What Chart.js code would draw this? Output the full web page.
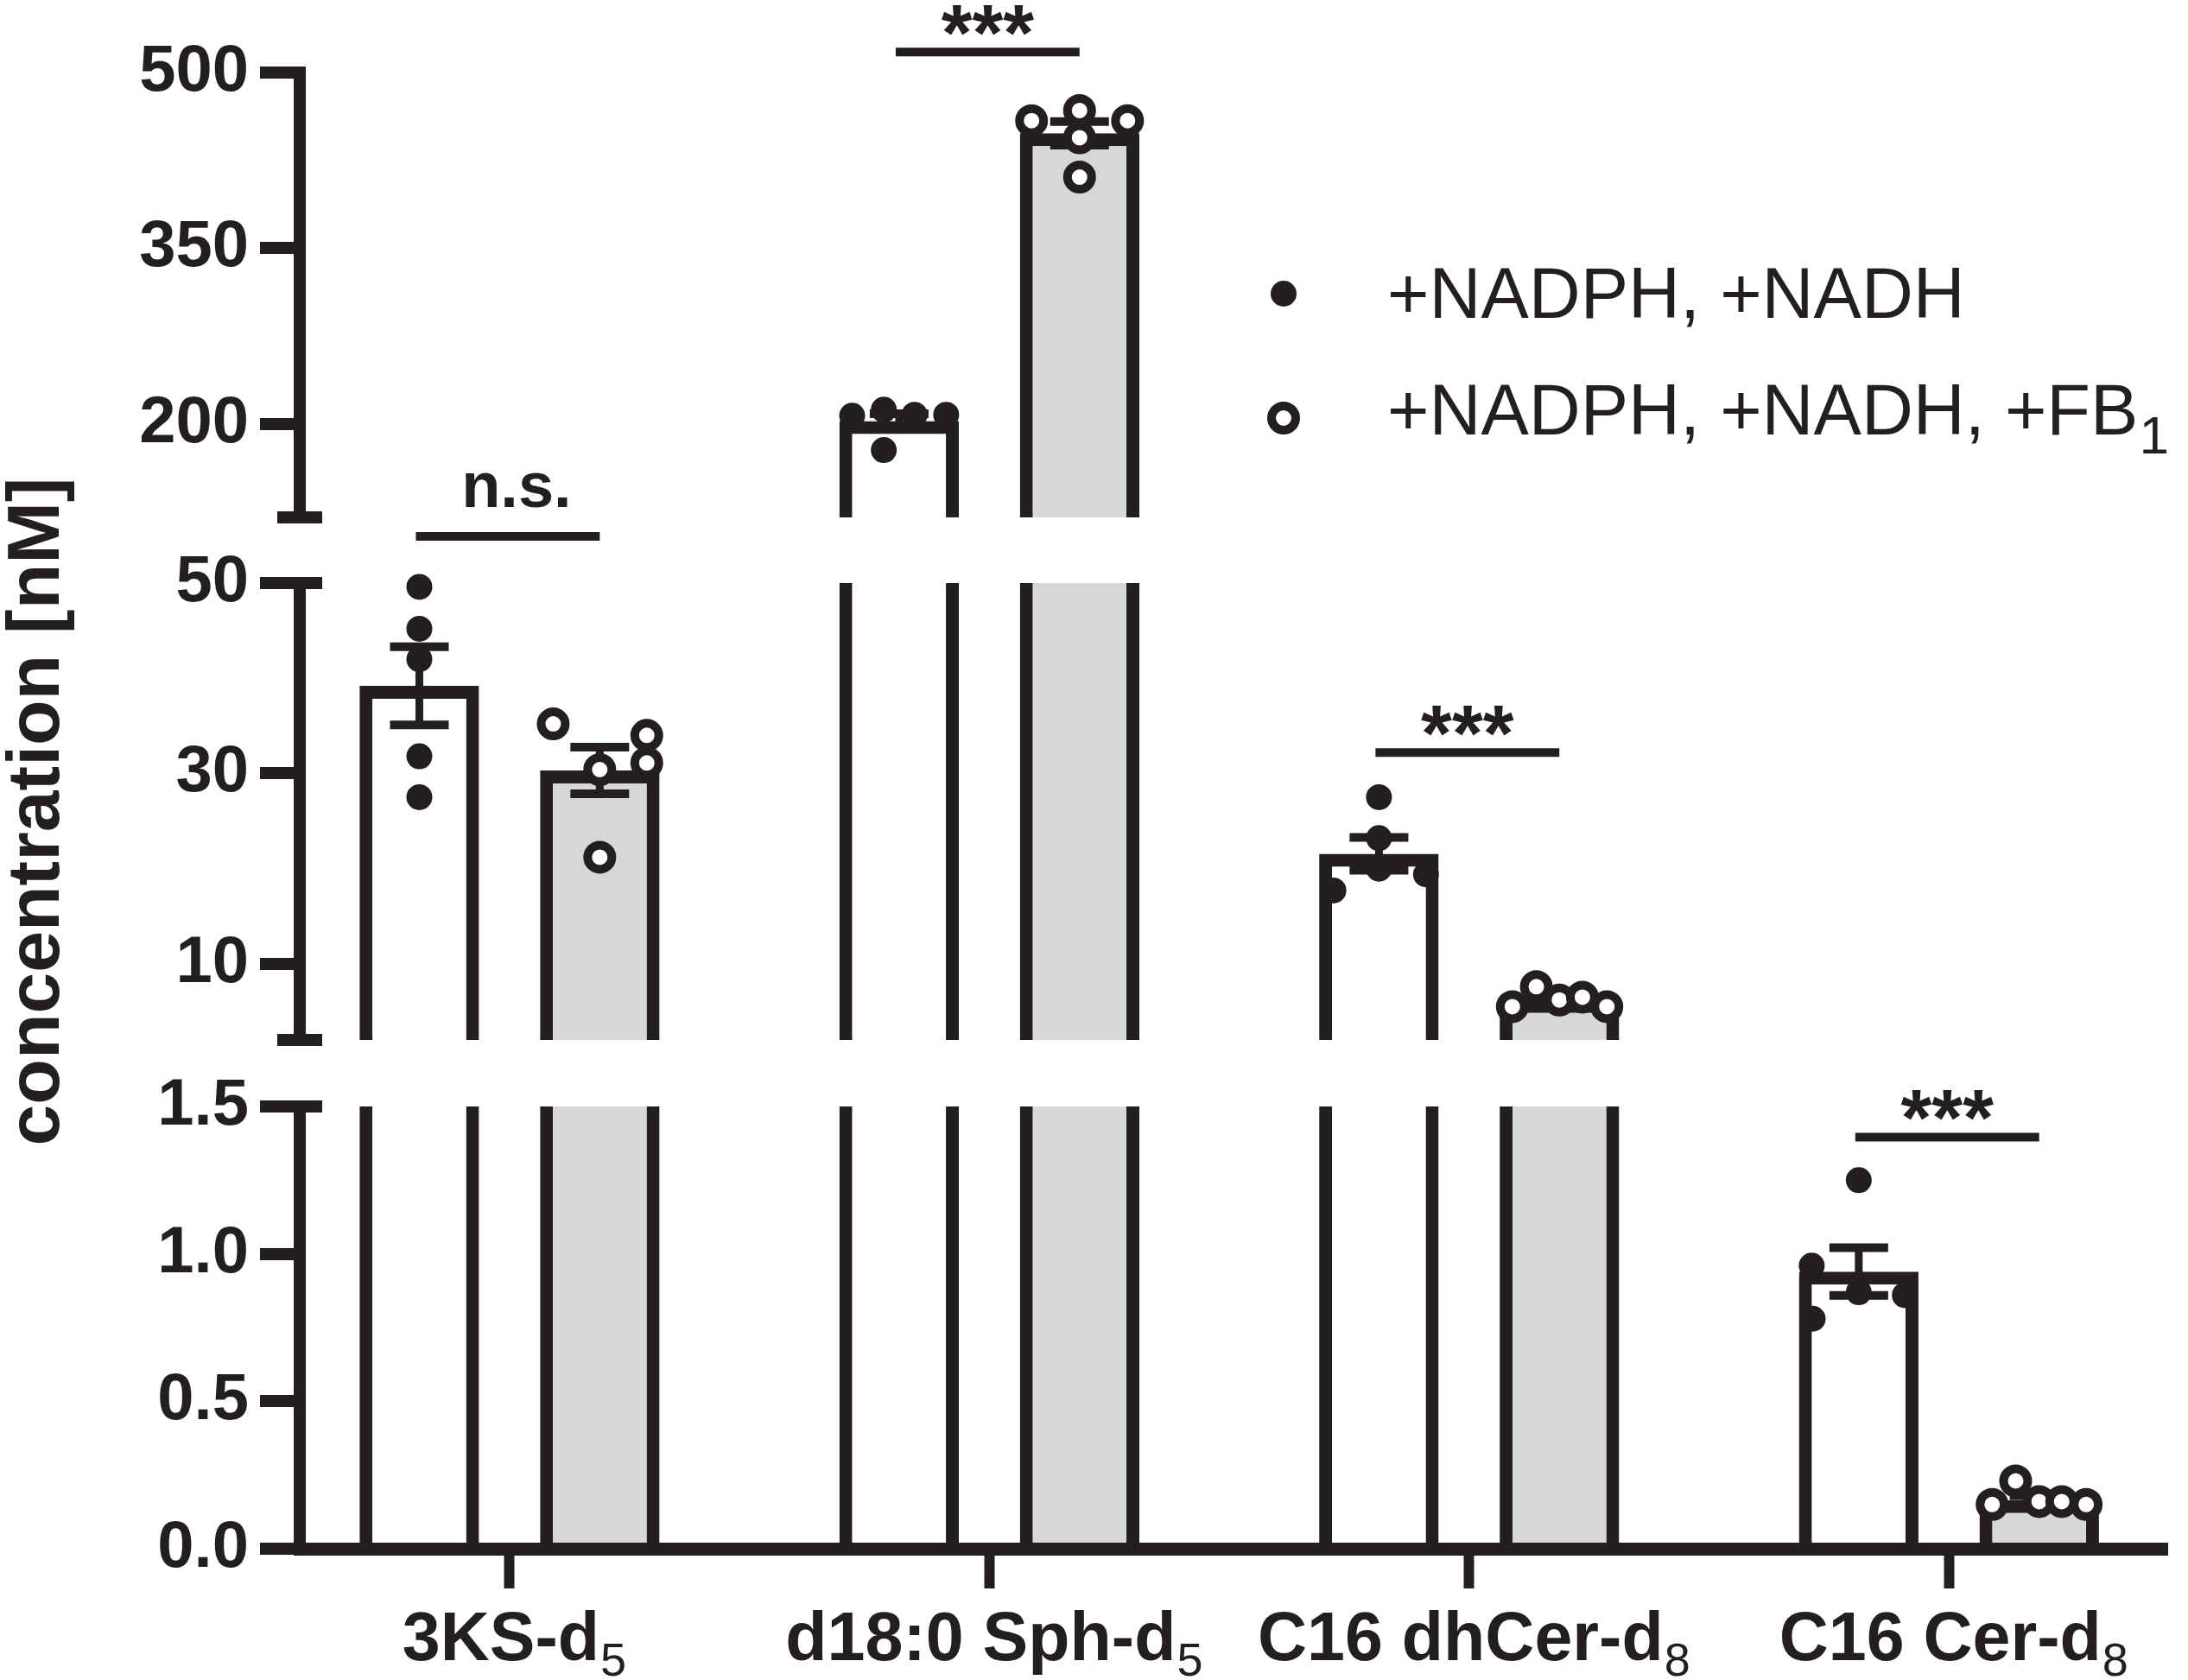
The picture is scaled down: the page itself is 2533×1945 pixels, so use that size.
<!DOCTYPE html>
<html>
<head>
<meta charset="utf-8">
<title>Sphingolipid intermediates with and without FB1</title>
<script src="https://cdn.jsdelivr.net/npm/chart.js@4.4.1/dist/chart.umd.min.js"></script>
<style>
  html, body { margin: 0; padding: 0; background: #fff; }
  canvas { display: block; }
</style>
</head>
<body>
<canvas id="chart" width="2533" height="1945"></canvas>
<script>
// x categories; the isotope count is drawn as a subscript
const categories = ['3KS-d', 'd18:0 Sph-d', 'C16 dhCer-d', 'C16 Cer-d'];
const categorySubs = ['5', '5', '8', '8'];

const seriesNames = ['+NADPH, +NADH', '+NADPH, +NADH, +FB'];
const seriesSubs = ['', '1'];

// bar heights (mean) and SEM, nM
const meanCtrl = [39.2, 202.3, 21.55, 0.94];
const semCtrl = [4.1, 6.3, 1.73, 0.081];
const meanFB1 = [30.3, 448.1, 6.2, 0.165];
const semFB1 = [2.45, 10.1, 0.39, 0.015];

// replicates
const pointsCtrl = [
  [49.6, 45.2, 42.0, 31.8, 27.5],
  [206.8, 212.0, 207.7, 207.7, 177.5],
  [27.5, 23.2, 20.0, 17.7, 19.4],
  [1.25, 0.96, 0.87, 0.86, 0.78]
];
const pointsFB1 = [
  [35.2, 30.4, 34.0, 31.1, 21.2],
  [458.9, 467.6, 458.9, 444.3, 410.7],
  [5.5, 7.6, 6.2, 6.5, 5.5],
  [0.15, 0.23, 0.16, 0.16, 0.15]
];
// sideways spread of the replicate dots (category units)
const jitterCtrl = [
  [0, 0, 0, 0, 0],
  [-0.098, -0.032, 0.032, 0.098, -0.032],
  [0, 0, 0, -0.095, 0.098],
  [0, -0.098, 0, 0.096, -0.096]
];
const jitterFB1 = [
  [-0.097, 0, 0.098, 0.098, 0],
  [-0.1, 0, 0.1, 0, 0],
  [-0.098, -0.048, 0, 0.048, 0.099],
  [-0.098, -0.049, 0, 0.047, 0.098]
];

// significance brackets
const sigLabels = ['n.s.', '***', '***', '***'];
const sigAxis = ['yMid', 'yTop', 'yMid', 'yBot'];
const sigLevel = [54.9, 517.5, 32.2, 1.396];

// broken y axis
const rangeTop = [120, 500];
const rangeMid = [2, 50];
const rangeBot = [0, 1.5];
const ticksTop = [200, 350, 500];
const ticksMid = [10, 30, 50];
const ticksBot = [0, 0.5, 1.0, 1.5];

const INK = '#231f20';
const GRAY = '#d5d7d8';
const FONT = "'Liberation Sans', Arial, Helvetica, sans-serif";
const BAR_EDGE = 15;
const GROUP_SHIFT = 0.188;
const AXIS_W = 347;

const segments = [
  { id: 'yTop', range: rangeTop, ticks: ticksTop, weight: 515 },
  { id: 'yMid', range: rangeMid, ticks: ticksMid, weight: 529 },
  { id: 'yBot', range: rangeBot, ticks: ticksBot, weight: 512 }
];

function barPiece(means, seg) {
  const out = [];
  means.forEach((v, i) => {
    if (v <= seg.range[0]) return;
    out.push({ x: i, y: [seg.range[0], Math.min(v, seg.range[1])] });
  });
  return out;
}

function pointPiece(points, jitter, shift, seg) {
  const out = [];
  points.forEach((vals, i) => vals.forEach((v, k) => {
    if (v >= seg.range[0] && v <= seg.range[1]) {
      out.push({ x: i + shift + jitter[i][k], y: v });
    }
  }));
  return out;
}

const datasets = [];
segments.forEach(seg => {
  [[meanCtrl, '#ffffff', 'ctrl'], [meanFB1, GRAY, 'fb1']].forEach(([means, fill, stack]) => {
    datasets.push({
      type: 'bar',
      order: 2,
      stack: stack,
      xAxisID: 'x',
      yAxisID: seg.id,
      data: barPiece(means, seg),
      backgroundColor: fill,
      borderColor: INK,
      borderSkipped: false,
      borderWidth: ctx => {
        // a bar that runs on into the next segment has no lid
        const cut = ctx.raw && ctx.raw.y[1] >= seg.range[1];
        return { left: BAR_EDGE, right: BAR_EDGE, top: cut ? 0 : BAR_EDGE, bottom: 0 };
      }
    });
  });
  datasets.push({
    type: 'scatter', order: 1, xAxisID: 'x', yAxisID: seg.id, clip: false,
    data: pointPiece(pointsCtrl, jitterCtrl, -GROUP_SHIFT, seg),
    pointRadius: 14, pointHoverRadius: 14, pointBorderWidth: 2,
    backgroundColor: INK, borderColor: INK
  });
  datasets.push({
    type: 'scatter', order: 1, xAxisID: 'x', yAxisID: seg.id, clip: false,
    data: pointPiece(pointsFB1, jitterFB1, GROUP_SHIFT, seg),
    pointRadius: 14, pointHoverRadius: 14, pointBorderWidth: 10,
    backgroundColor: '#ffffff', borderColor: INK
  });
});

function segAxis(seg) {
  return {
    type: 'linear', position: 'left', stack: 'y', stackWeight: seg.weight,
    stacked: false, min: seg.range[0], max: seg.range[1],
    afterBuildTicks: s => { s.ticks = seg.ticks.map(v => ({ value: v })); },
    afterFit: s => { s.width = AXIS_W; },
    ticks: {
      color: INK, padding: 13, autoSkip: false,
      font: { family: FONT, size: 76, weight: 'bold' },
      callback: v => seg.id === 'yBot' ? Number(v).toFixed(1) : String(v)
    },
    grid: {
      drawOnChartArea: false, drawTicks: true, tickLength: 46,
      lineWidth: 14, tickWidth: 14, color: INK, tickColor: INK
    },
    border: { display: true, width: 14, color: INK }
  };
}

function gapAxis(weight) {
  return {
    type: 'linear', position: 'left', stack: 'y', stackWeight: weight,
    afterFit: s => { s.width = AXIS_W; },
    ticks: { display: false },
    grid: { display: false },
    border: { display: false }
  };
}

const scales = {
  x: {
    type: 'linear', min: -0.4373, max: 3.455, offset: false,
    afterBuildTicks: s => { s.ticks = categories.map((c, i) => ({ value: i })); },
    afterFit: s => { s.height = 152; },
    ticks: { display: false, autoSkip: false },
    grid: {
      offset: false, drawOnChartArea: false, drawTicks: true, tickLength: 46,
      lineWidth: 1, tickWidth: 12, color: INK, tickColor: INK
    },
    border: { display: true, width: 15, color: INK }
  },
  // left stack is laid out in reverse order: last entry ends up on top
  yBot: segAxis(segments[2]),
  gapLow: gapAxis(77),
  yMid: segAxis(segments[1]),
  gapHigh: gapAxis(76),
  yTop: segAxis(segments[0])
};
scales.yMid.title = {
  display: true, text: 'concentration [nM]', color: INK,
  font: { family: FONT, size: 86, weight: 'bold', lineHeight: 1.0 },
  padding: { top: 1, bottom: 0 }
};

function segmentOf(v) {
  return segments.find(s => v > s.range[0] && v <= s.range[1]) || segments[2];
}

function line(ctx, x1, y1, x2, y2, w) {
  ctx.beginPath();
  ctx.lineWidth = w;
  ctx.lineCap = 'butt';
  ctx.strokeStyle = INK;
  ctx.moveTo(x1, y1);
  ctx.lineTo(x2, y2);
  ctx.stroke();
}

function drawWithSub(ctx, x, baseline, main, sub, mainFont, subFont, drop, centred) {
  ctx.font = mainFont;
  const w1 = ctx.measureText(main).width;
  ctx.font = subFont;
  const w2 = sub ? ctx.measureText(sub).width : 0;
  const x0 = centred ? x - (w1 + w2) / 2 : x;
  ctx.fillStyle = INK;
  ctx.textAlign = 'left';
  ctx.textBaseline = 'alphabetic';
  ctx.font = mainFont;
  ctx.fillText(main, x0, baseline);
  if (sub) {
    ctx.font = subFont;
    ctx.fillText(sub, x0 + w1 + 1, baseline + drop);
  }
}

// error bars go on top of the bars but under the dots
const errorBars = {
  id: 'errorBars',
  beforeDraw(chart) { chart.$errDone = false; },
  beforeDatasetDraw(chart, args) {
    if (chart.$errDone || args.meta.type !== 'scatter') return;
    chart.$errDone = true;
    const ctx = chart.ctx;
    const xs = chart.scales.x;
    ctx.save();
    [[meanCtrl, semCtrl, -GROUP_SHIFT], [meanFB1, semFB1, GROUP_SHIFT]].forEach(([m, e, shift]) => {
      m.forEach((v, i) => {
        const ys = chart.scales[segmentOf(v).id];
        const x = xs.getPixelForValue(i + shift);
        const top = ys.getPixelForValue(v + e[i]);
        const bot = ys.getPixelForValue(v - e[i]);
        line(ctx, x, top, x, bot, 9);
        line(ctx, x - 34, top, x + 34, top, 10);
        line(ctx, x - 34, bot, x + 34, bot, 10);
      });
    });
    ctx.restore();
  }
};

const decorations = {
  id: 'decorations',
  afterDraw(chart) {
    const ctx = chart.ctx;
    const xs = chart.scales.x;
    const area = chart.chartArea;
    ctx.save();

    // break marks on the y axis
    const ax = chart.scales.yMid.right;
    [['yTop', rangeTop[0]], ['yMid', rangeMid[1]], ['yMid', rangeMid[0]], ['yBot', rangeBot[1]]]
      .forEach(([id, v]) => {
        const y = chart.scales[id].getPixelForValue(v);
        line(ctx, ax - 26, y, ax + 26, y, 14);
      });

    // significance brackets
    sigLabels.forEach((lab, i) => {
      const y = chart.scales[sigAxis[i]].getPixelForValue(sigLevel[i]);
      const x1 = xs.getPixelForValue(i - GROUP_SHIFT) - 4;
      const x2 = xs.getPixelForValue(i + GROUP_SHIFT);
      line(ctx, x1, y, x2, y, 10);
      ctx.fillStyle = INK;
      ctx.textAlign = 'center';
      ctx.textBaseline = 'alphabetic';
      if (lab === 'n.s.') {
        ctx.font = 'bold 74px ' + FONT;
        ctx.fillText(lab, (x1 + x2) / 2 + 10, y - 34);
      } else {
        ctx.font = 'bold 92px ' + FONT;
        ctx.fillText(lab, (x1 + x2) / 2, y + 10);
      }
    });

    // category labels
    categories.forEach((c, i) => {
      drawWithSub(ctx, xs.getPixelForValue(i) + 5, area.bottom + 129, c, categorySubs[i],
        'bold 79px ' + FONT, '54px ' + FONT, 18, true);
    });

    // legend
    const rows = [340, 484];
    const bases = [368, 503];
    seriesNames.forEach((name, k) => {
      ctx.beginPath();
      if (k === 0) {
        ctx.arc(1486, rows[k], 15, 0, Math.PI * 2);
        ctx.fillStyle = INK;
        ctx.fill();
      } else {
        ctx.arc(1486, rows[k], 14, 0, Math.PI * 2);
        ctx.fillStyle = '#ffffff';
        ctx.fill();
        ctx.lineWidth = 10;
        ctx.strokeStyle = INK;
        ctx.stroke();
      }
      drawWithSub(ctx, 1606, bases[k], name, seriesSubs[k],
        '83px ' + FONT, '62px ' + FONT, 22, false);
    });
    ctx.restore();
  }
};

new Chart(document.getElementById('chart'), {
  type: 'bar',
  data: { datasets: datasets },
  options: {
    responsive: false,
    devicePixelRatio: 1,
    animation: false,
    events: [],
    layout: { padding: { top: 84, right: 5, bottom: 0, left: 0 } },
    datasets: { bar: { categoryPercentage: 0.7525, barPercentage: 0.662, grouped: true } },
    plugins: { legend: { display: false }, tooltip: { enabled: false } },
    scales: scales
  },
  plugins: [errorBars, decorations]
});
</script>
</body>
</html>
